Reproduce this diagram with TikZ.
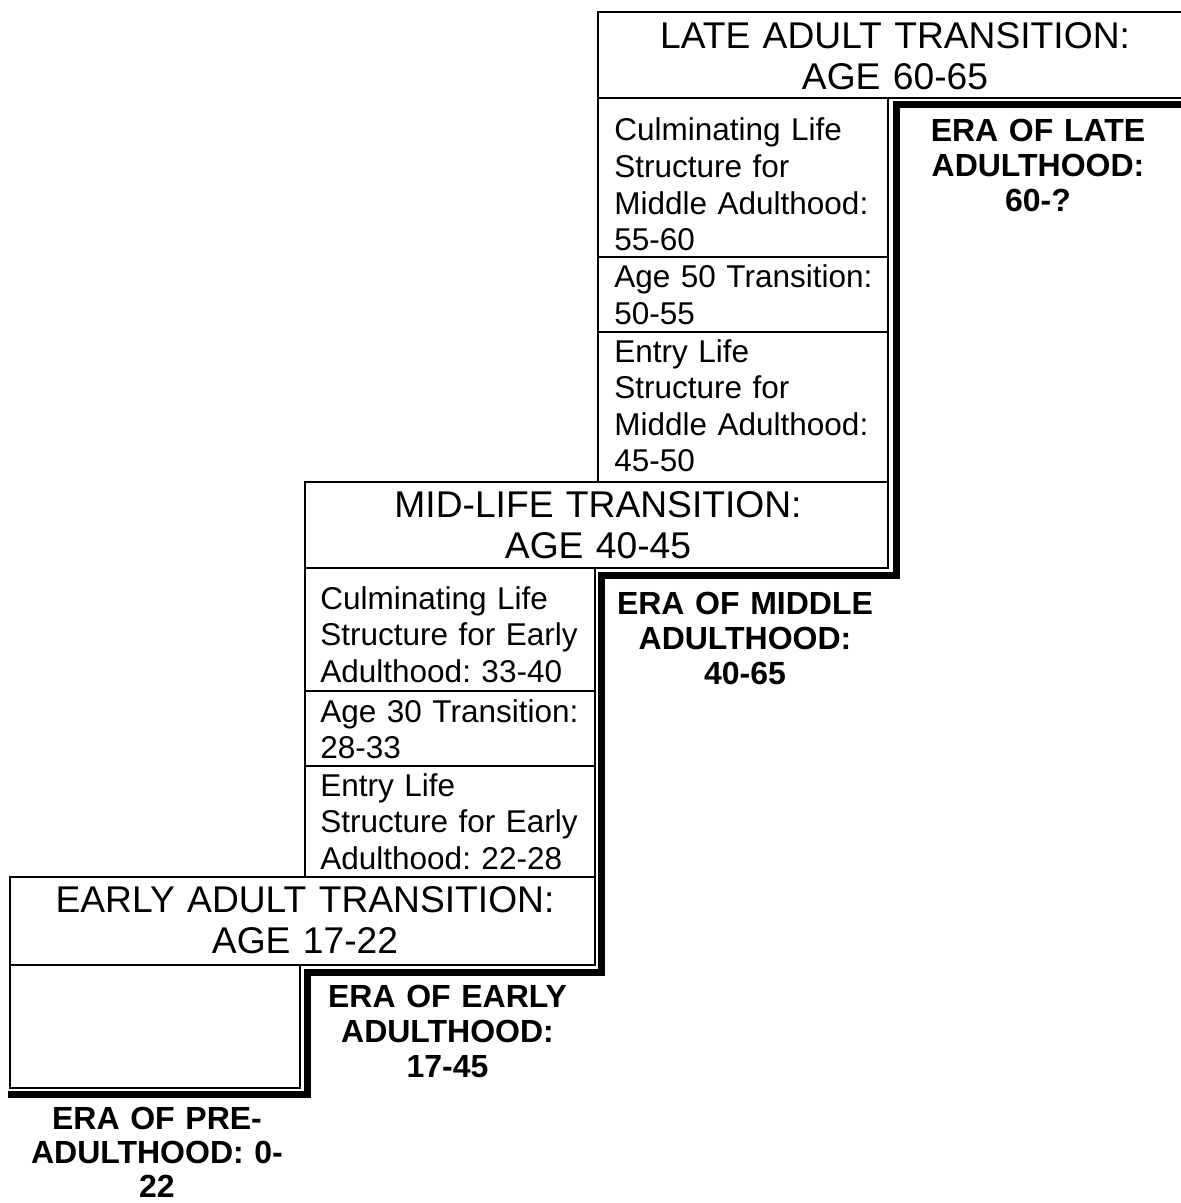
\documentclass[tikz,border=0pt]{standalone}
\usepackage{fontspec}
\setmainfont{Liberation Sans}
\frenchspacing
\begin{document}
\begin{tikzpicture}[x=0.5pt,y=-0.5pt,
  cellline/.style={draw=black,line width=0.75pt},
  eraline/.style={draw=black,line width=3.5pt,line join=miter},
  bigtxt/.style={inner sep=0pt,anchor=base,text width=300pt,align=center,font=\frenchspacing\fontsize{18.6pt}{20.5pt}\selectfont},
  smalltxt/.style={inner sep=0pt,anchor=base west,text width=140pt,align=left,font=\frenchspacing\fontsize{15.75pt}{18.3pt}\selectfont},
  eratxt/.style={inner sep=0pt,anchor=base,text width=140pt,align=center,font=\frenchspacing\bfseries\fontsize{16pt}{17.5pt}\selectfont},
]
\useasboundingbox[fill=white] (0,0) rectangle (1181,1203);

% ---- thin cell borders ----
% late adult transition and upper column
\draw[cellline] (598,12) rectangle (1200,98);
\draw[cellline] (598,98) rectangle (888,257);
\draw[cellline] (598,257) rectangle (888,332);
\draw[cellline] (598,332) rectangle (888,482);
% mid-life transition and middle column
\draw[cellline] (305,482) rectangle (888,568);
\draw[cellline] (305,568) rectangle (595,691);
\draw[cellline] (305,691) rectangle (595,766);
\draw[cellline] (305,766) rectangle (595,877);
% early adult transition and empty box
\draw[cellline] (10,877) rectangle (595,965);
\draw[cellline] (10,965) rectangle (300,1088);

% ---- thick staircase line ----
\draw[eraline] (8,1094.5) -- (307.5,1094.5) -- (307.5,972.5) -- (601.5,972.5)
  -- (601.5,575) -- (896.5,575) -- (896.5,105) -- (1200,105);

% ---- transition headings ----
\node[bigtxt] (late) at (895,49) {LATE ADULT TRANSITION:\\AGE 60-65};
\node[bigtxt] (mid) at (598,517) {MID-LIFE TRANSITION:\\AGE 40-45};
\node[bigtxt] (early) at (305,912) {EARLY ADULT TRANSITION:\\AGE 17-22};

% ---- upper column ----
\node[smalltxt] (c5560) at (614,141) {Culminating Life\\Structure for\\Middle Adulthood:\\55-60};
\node[smalltxt] (t5055) at (614,288) {Age 50 Transition:\\50-55};
\node[smalltxt] (e4550) at (614,362) {Entry Life\\Structure for\\Middle Adulthood:\\45-50};

% ---- lower column ----
\node[smalltxt] (c3340) at (320,609) {Culminating Life\\Structure for Early\\Adulthood: 33-40};
\node[smalltxt] (t2833) at (320,722) {Age 30 Transition:\\28-33};
\node[smalltxt] (e2228) at (320,796) {Entry Life\\Structure for Early\\Adulthood: 22-28};

% ---- era labels ----
\node[eratxt] (eralate) at (1038,142) {ERA OF LATE\\ADULTHOOD:\\60-?};
\node[eratxt] (eramid) at (745,614) {ERA OF MIDDLE\\ADULTHOOD:\\40-65};
\node[eratxt] (eraearly) at (447.5,1007) {ERA OF EARLY\\ADULTHOOD:\\17-45};
\node[eratxt,font=\frenchspacing\bfseries\fontsize{16pt}{17pt}\selectfont] (erapre) at (157,1129) {ERA OF PRE-\\ADULTHOOD: 0-\\22};
\end{tikzpicture}
\end{document}
